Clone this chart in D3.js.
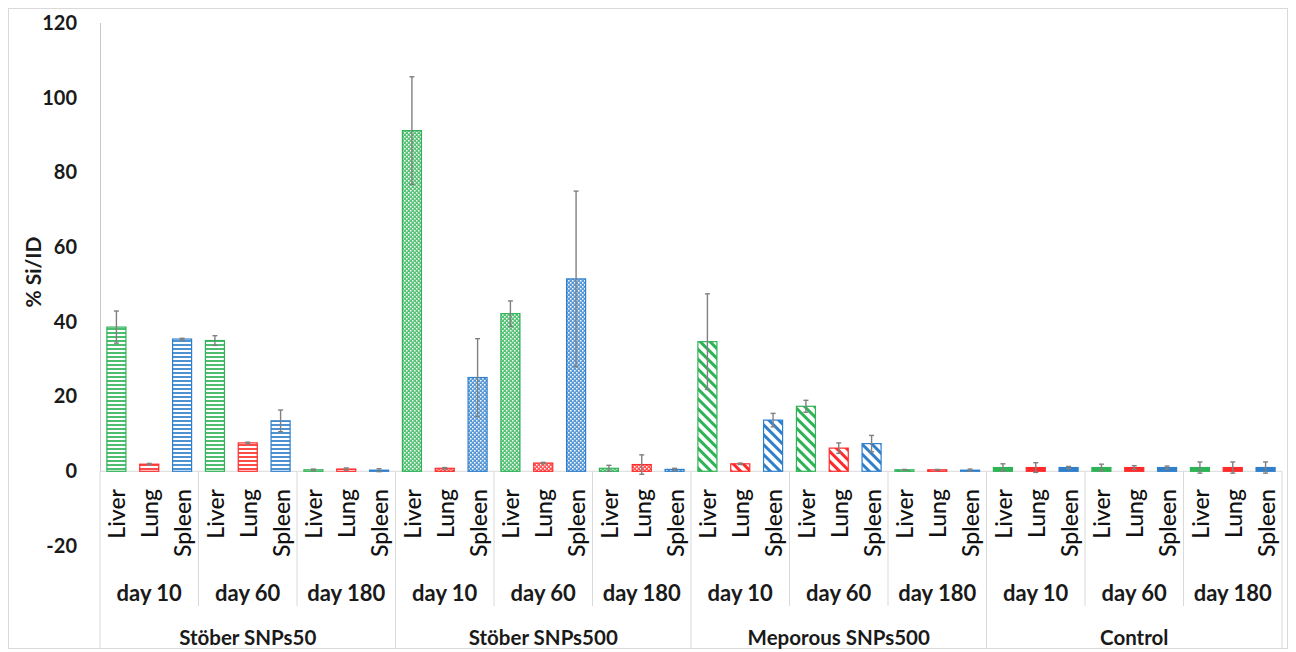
<!DOCTYPE html>
<html>
<head>
<meta charset="utf-8">
<script src="https://cdn.jsdelivr.net/npm/d3@7"></script>
<style>
  body { margin: 0; background: #ffffff; }
  svg { display: block; font-family: Lato, "Open Sans", sans-serif; }
</style>
</head>
<body>
<svg id="chart" width="1296" height="652"></svg>
<script>
// categories
const groups = ["Stöber SNPs50", "Stöber SNPs500", "Meporous SNPs500", "Control"];
const days = ["day 10", "day 60", "day 180"];
const organs = ["Liver", "Lung", "Spleen"];
const yTicks = [-20, 0, 20, 40, 60, 80, 100, 120];

// % Si/ID per group, order: day10 (Liver, Lung, Spleen), day60 (...), day180 (...)
const snps50Values  = [38.6, 1.9, 35.4, 35.0, 7.6, 13.5, 0.4, 0.6, 0.3];
const snps50Errors  = [4.3, 0.2, 0.2, 1.3, 0.2, 2.9, 0.2, 0.3, 0.4];
const snps500Values = [91.2, 0.8, 25.1, 42.2, 2.2, 51.5, 0.8, 1.8, 0.5];
const snps500Errors = [14.4, 0.2, 10.4, 3.4, 0.2, 23.5, 0.8, 2.6, 0.3];
const mesoValues    = [34.7, 2.0, 13.7, 17.4, 6.2, 7.4, 0.4, 0.4, 0.3];
const mesoErrors    = [12.8, 0.2, 1.8, 1.6, 1.4, 2.2, 0.1, 0.1, 0.3];
const controlValues = [1.0, 1.0, 1.0, 1.0, 1.0, 1.0, 1.0, 1.0, 1.0];
const controlErrors = [1.0, 1.3, 0.3, 0.9, 0.5, 0.4, 1.5, 1.5, 1.5];

const groupValues = [snps50Values, snps500Values, mesoValues, controlValues];
const groupErrors = [snps50Errors, snps500Errors, mesoErrors, controlErrors];
const groupFills = ["hlines", "checker", "diag", "solid"];

const organColors = {Liver: "#2eb356", Lung: "#ff2a2a", Spleen: "#2f7fcb"};

const svg = d3.select("#chart");

const left = 100, right = 1282;
const y = d3.scaleLinear().domain([-20, 120]).range([546, 23]);
const y0 = y(0);

// one slot per bar
const rows = [];
groups.forEach((g, gi) => {
    days.forEach((d, di) => {
        organs.forEach((o, oi) => {
            const k = di * 3 + oi;
            rows.push({key: `${g}|${d}|${o}`, group: g, gi: gi, day: d, organ: o,
                       value: groupValues[gi][k], err: groupErrors[gi][k]});
        });
    });
});

const x = d3.scaleBand()
            .domain(rows.map(r => r.key))
            .range([left, right])
            .paddingInner(0.39)
            .paddingOuter(0.195);

// patterns
const defs = svg.append("defs");
organs.forEach(o => {
    const c = organColors[o];
    const h = defs.append("pattern").attr("id", `hlines-${o}`)
                  .attr("patternUnits", "userSpaceOnUse").attr("width", 4).attr("height", 4);
    h.append("rect").attr("width", 4).attr("height", 4).attr("fill", "#fff");
    h.append("rect").attr("y", 0).attr("width", 4).attr("height", 2).attr("fill", c).attr("opacity", 0.85);

    const ch = defs.append("pattern").attr("id", `checker-${o}`)
                   .attr("patternUnits", "userSpaceOnUse").attr("width", 4).attr("height", 4);
    ch.append("rect").attr("width", 4).attr("height", 4).attr("fill", c).attr("opacity", 0.8);
    ch.append("rect").attr("x", 0).attr("y", 0).attr("width", 1.5).attr("height", 1.5).attr("fill", "#fff");
    ch.append("rect").attr("x", 2).attr("y", 2).attr("width", 1.5).attr("height", 1.5).attr("fill", "#fff");

    const dg = defs.append("pattern").attr("id", `diag-${o}`)
                   .attr("patternUnits", "userSpaceOnUse").attr("width", 7).attr("height", 7)
                   .attr("patternTransform", "rotate(-45)");
    dg.append("rect").attr("width", 7).attr("height", 7).attr("fill", "#fff");
    dg.append("rect").attr("x", 0).attr("width", 3).attr("height", 7).attr("fill", c);
});

const fillFor = r => {
    const kind = groupFills[r.gi];
    if (kind === "solid") return organColors[r.organ];
    return `url(#${kind}-${r.organ})`;
};

// frame
svg.append("rect")
   .attr("x", 8.5).attr("y", 8.5).attr("width", 1279).attr("height", 640)
   .attr("fill", "none").attr("stroke", "#d9d9d9");

// y axis
svg.append("line")
   .attr("x1", left + 0.5).attr("x2", left + 0.5)
   .attr("y1", y(120)).attr("y2", y0)
   .attr("stroke", "#c8c8c8");

const yAxis = svg.append("g")
                 .attr("transform", `translate(${left},0)`)
                 .call(d3.axisLeft(y).tickValues(yTicks).tickSize(0).tickPadding(23)
                         .tickFormat(d => String(d)));
yAxis.select(".domain").remove();
yAxis.selectAll("text")
     .attr("font-family", "Lato, sans-serif")
     .attr("font-size", 20)
     .attr("font-weight", "bold")
     .attr("fill", "#1a1a1a");

svg.append("text")
   .attr("transform", "translate(32,272) rotate(-90)")
   .attr("text-anchor", "middle")
   .attr("dominant-baseline", "central")
   .attr("font-size", 21)
   .attr("font-weight", "bold")
   .attr("fill", "#1a1a1a")
   .text("% Si/ID");

// category axis
const groupWidth = (right - left) / groups.length;
const dayWidth = groupWidth / days.length;

svg.append("line")
   .attr("x1", left).attr("x2", right)
   .attr("y1", y0).attr("y2", y0)
   .attr("stroke", "#d9d9d9");

groups.forEach((g, gi) => {
    const gx = left + gi * groupWidth;
    [1, 2].forEach(di => {
        svg.append("line")
           .attr("x1", gx + di * dayWidth).attr("x2", gx + di * dayWidth)
           .attr("y1", y0).attr("y2", 606)
           .attr("stroke", "#d9d9d9");
    });
    days.forEach((d, di) => {
        svg.append("text")
           .attr("x", gx + (di + 0.5) * dayWidth).attr("y", 592)
           .attr("text-anchor", "middle").attr("dominant-baseline", "central")
           .attr("font-size", 22).attr("font-weight", "bold").attr("fill", "#1a1a1a")
           .text(d);
    });
    svg.append("text")
       .attr("x", gx + groupWidth / 2).attr("y", 637)
       .attr("text-anchor", "middle").attr("dominant-baseline", "central")
       .attr("font-size", 20.5).attr("font-weight", "bold").attr("fill", "#1a1a1a")
       .text(g);
});
d3.range(groups.length + 1).forEach(i => {
    svg.append("line")
       .attr("x1", left + i * groupWidth).attr("x2", left + i * groupWidth)
       .attr("y1", y0).attr("y2", 648)
       .attr("stroke", "#d9d9d9");
});

svg.append("g")
   .selectAll("text")
   .data(rows)
   .enter()
   .append("text")
   .attr("transform", d => `translate(${x(d.key) + x.bandwidth() / 2},489) rotate(-90)`)
   .attr("text-anchor", "end")
   .attr("dominant-baseline", "central")
   .attr("font-size", 23)
   .attr("font-weight", 500)
   .attr("fill", "#111")
   .text(d => d.organ);

// bars
svg.append("g")
   .selectAll("rect")
   .data(rows)
   .enter()
   .append("rect")
   .attr("x", d => x(d.key) + 0.5)
   .attr("y", d => y(d.value))
   .attr("width", x.bandwidth() - 1)
   .attr("height", d => y0 - y(d.value))
   .attr("fill", fillFor)
   .attr("stroke", d => organColors[d.organ])
   .attr("stroke-width", 1.2);

// error bars
const eb = svg.append("g")
              .selectAll("g")
              .data(rows)
              .enter()
              .append("g")
              .attr("stroke", "#808080")
              .attr("stroke-width", 1.4);
const cx = d => x(d.key) + x.bandwidth() / 2;
eb.append("line")
  .attr("x1", cx).attr("x2", cx)
  .attr("y1", d => y(d.value + d.err))
  .attr("y2", d => y(d.value - d.err));
eb.append("line")
  .attr("x1", d => cx(d) - 2.5).attr("x2", d => cx(d) + 2.5)
  .attr("y1", d => y(d.value + d.err)).attr("y2", d => y(d.value + d.err));
eb.append("line")
  .attr("x1", d => cx(d) - 2.5).attr("x2", d => cx(d) + 2.5)
  .attr("y1", d => y(d.value - d.err)).attr("y2", d => y(d.value - d.err));
</script>
</body>
</html>
